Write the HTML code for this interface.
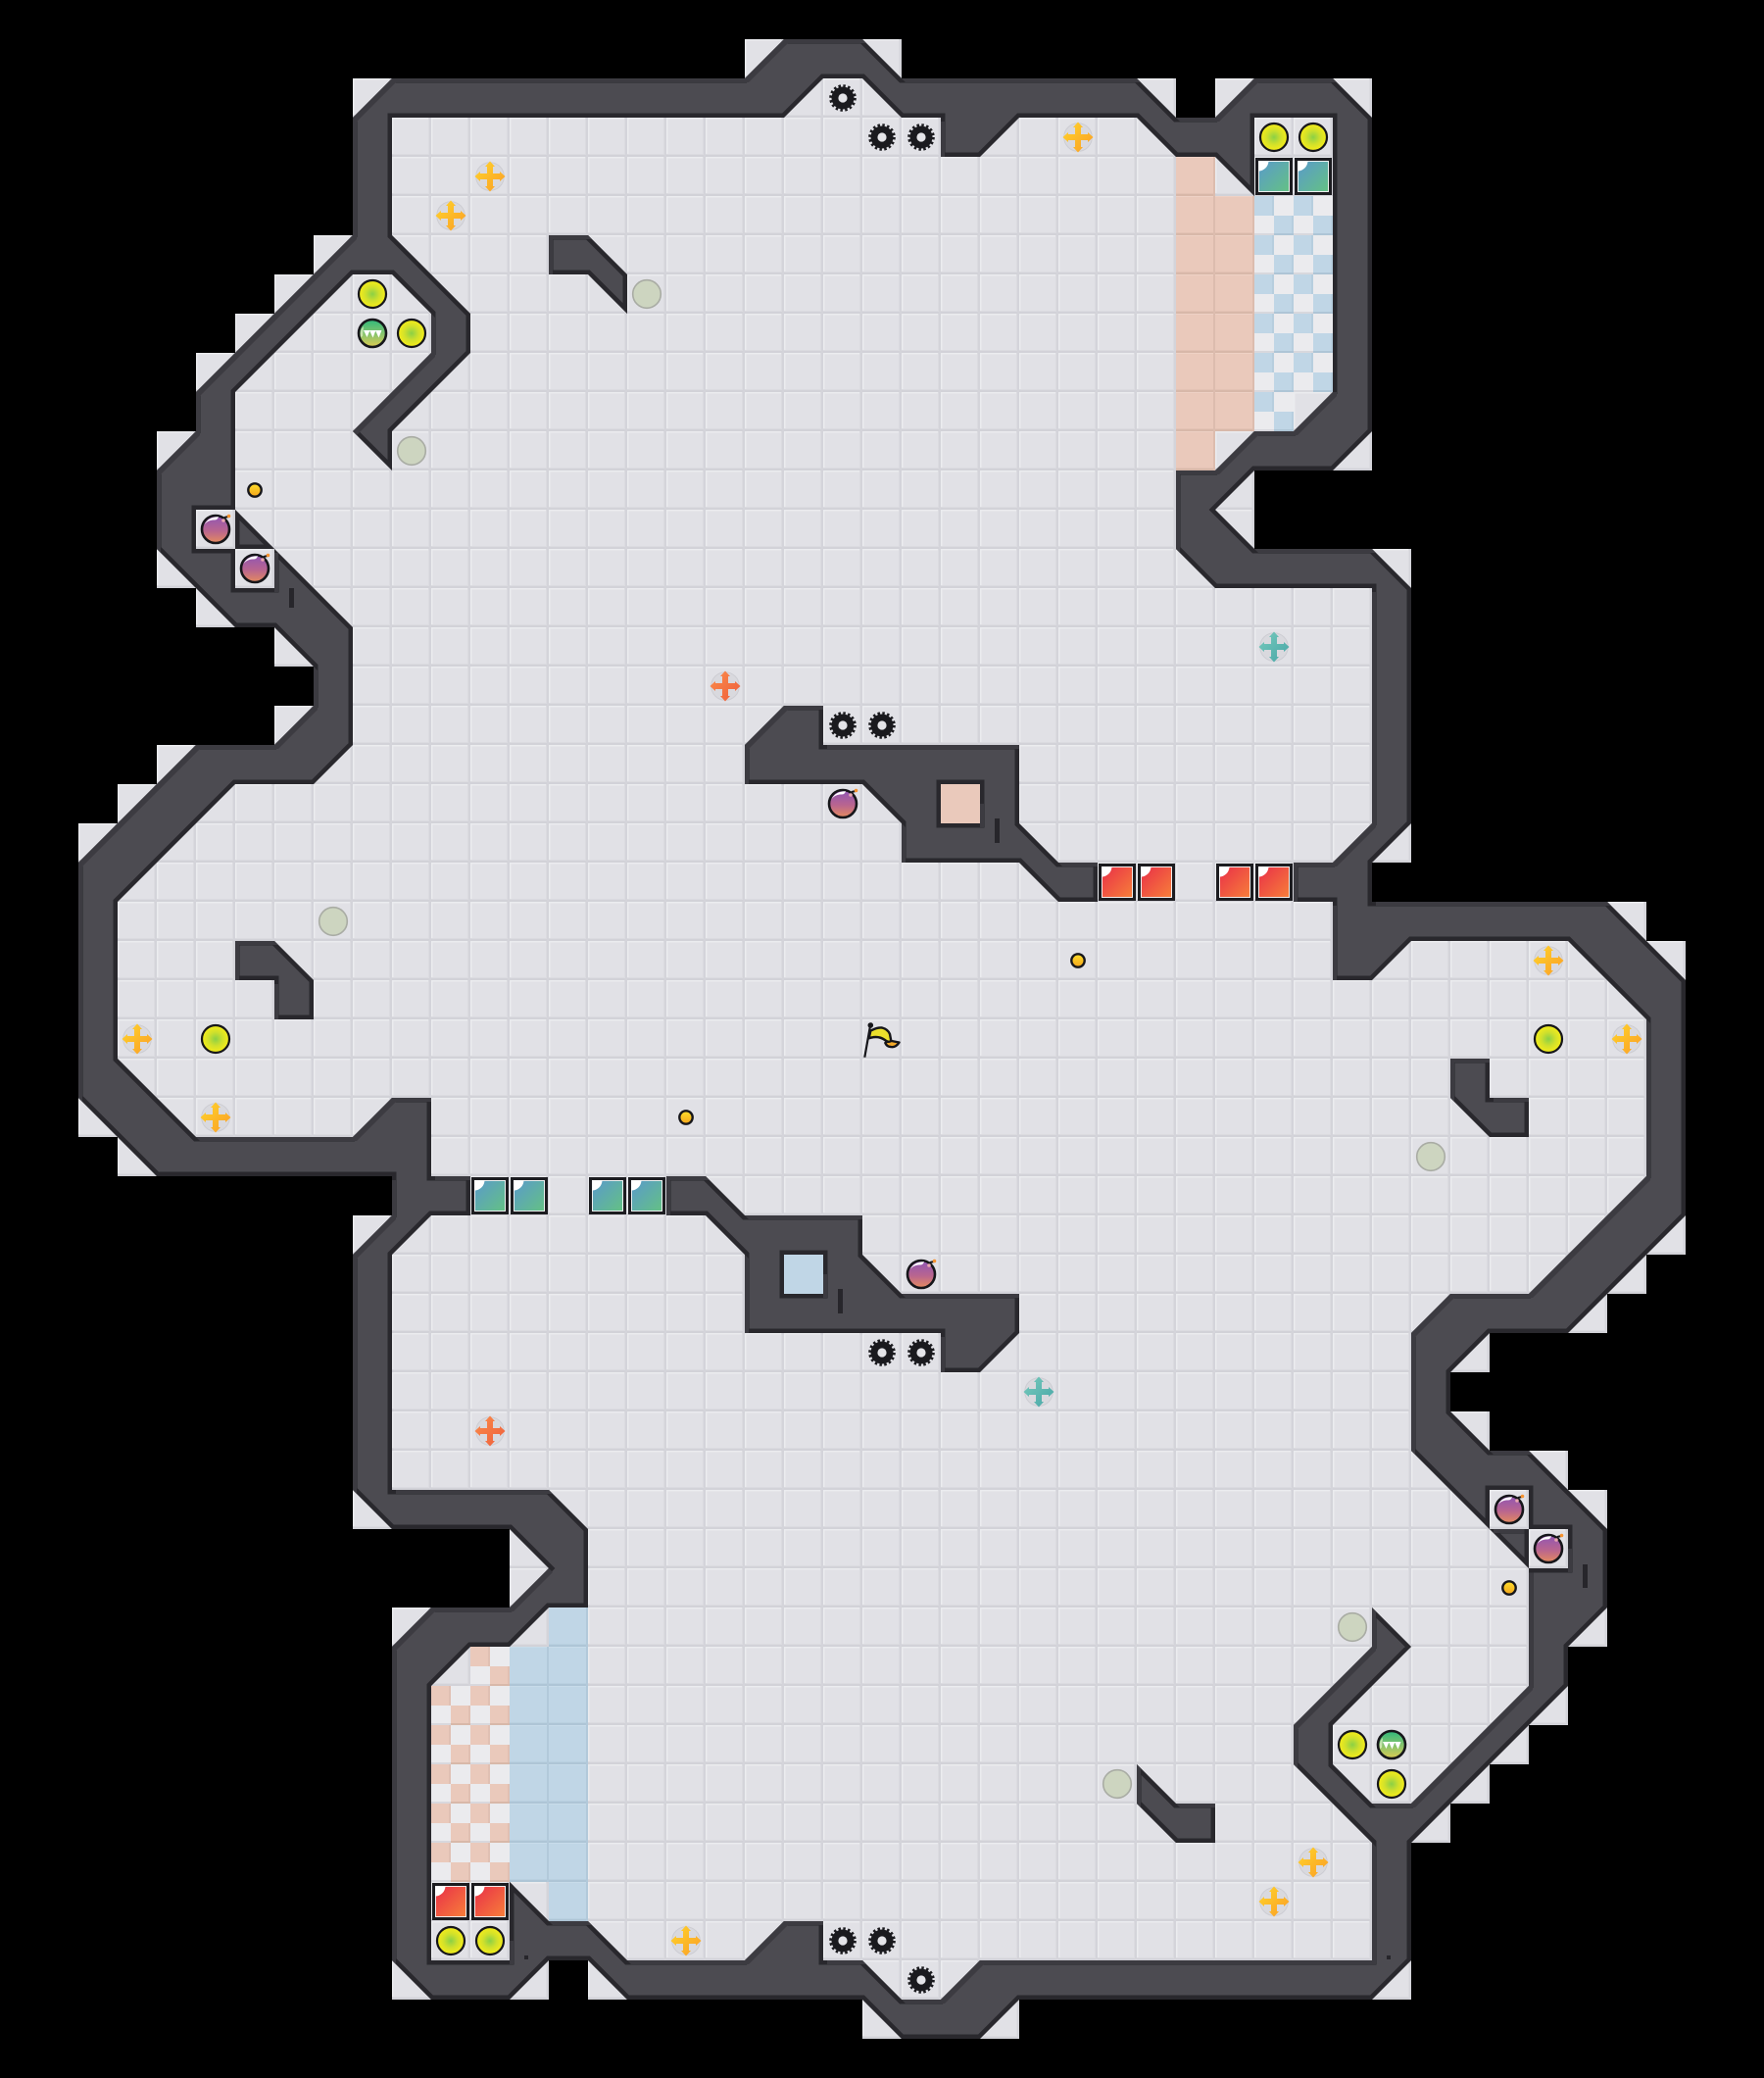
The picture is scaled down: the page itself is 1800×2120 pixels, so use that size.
<!DOCTYPE html>
<html>
<head>
<meta charset="utf-8">
<title>Map</title>
<style>
html,body{margin:0;padding:0;background:#000;}
svg{display:block;}
</style>
</head>
<body>
<svg xmlns="http://www.w3.org/2000/svg" width="1800" height="2120" viewBox="0 0 1800 2120">
<defs>
<pattern id="tile" patternUnits="userSpaceOnUse" width="40" height="40">
  <rect width="40" height="40" fill="#e1e1e6"/>
  <rect width="40" height="1.5" fill="#ebecef"/>
  <rect width="1.5" height="40" fill="#ebecef"/>
  <rect y="37" width="40" height="1" fill="#dbdbe0"/>
  <rect x="37" width="1" height="40" fill="#dbdbe0"/>
  <rect y="38" width="40" height="2" fill="#d2d2d8"/>
  <rect x="38" width="2" height="40" fill="#d4d4da"/>
</pattern>
<pattern id="tp" patternUnits="userSpaceOnUse" width="40" height="40">
  <rect width="40" height="40" fill="#eac9bb"/>
  <rect width="40" height="1" fill="#eed1c5"/>
  <rect y="37" width="40" height="1" fill="#e3c2b4"/>
  <rect y="38" width="40" height="2" fill="#d8b8a9"/>
  <rect x="38" width="2" height="40" fill="#dcbcae"/>
</pattern>
<pattern id="tb" patternUnits="userSpaceOnUse" width="40" height="40">
  <rect width="40" height="40" fill="#c0d6e6"/>
  <rect width="40" height="1" fill="#c8dcea"/>
  <rect y="37" width="40" height="1" fill="#b9d0e0"/>
  <rect y="38" width="40" height="2" fill="#aec5d6"/>
  <rect x="38" width="2" height="40" fill="#b2c9da"/>
</pattern>
<pattern id="cb" patternUnits="userSpaceOnUse" width="40" height="40">
  <rect width="40" height="40" fill="#ebebee"/>
  <rect width="20" height="20" fill="#c0d6e6"/>
  <rect x="20" y="20" width="20" height="20" fill="#c0d6e6"/>
  <rect x="18" width="2" height="20" fill="#b7cede"/>
  <rect x="38" y="20" width="2" height="20" fill="#b7cede"/>
  <rect x="20" y="38" width="20" height="2" fill="#aec5d6"/>
  <rect y="38" width="20" height="2" fill="#d8d8dd"/>
</pattern>
<pattern id="cp" patternUnits="userSpaceOnUse" width="40" height="40">
  <rect width="40" height="40" fill="#ebebee"/>
  <rect width="20" height="20" fill="#eac9bb"/>
  <rect x="20" y="20" width="20" height="20" fill="#eac9bb"/>
  <rect x="18" width="2" height="20" fill="#e0c0b3"/>
  <rect x="38" y="20" width="2" height="20" fill="#e0c0b3"/>
  <rect x="20" y="38" width="20" height="2" fill="#d8b8a9"/>
  <rect y="38" width="20" height="2" fill="#d8d8dd"/>
</pattern>

<path id="w" transform="scale(40)" fill-rule="evenodd" clip-rule="evenodd" d="
M9 3L10 2L19 2L20 1L22 1L23 2L29 2L30 3L31 3L32 2L34 2L35 3L35 11L34 12L32 12L31 13L32 14L35 14L36 15L36 21L35 22L35 23L41 23L43 25L43 31L40 34L38 34L37 35L37 36L38 37L39 37L41 39L41 41L40 42L40 43L36 47L36 50L35 51L26 51L25 52L23 52L22 51L16 51L15 50L14 50L13 51L11 51L10 50L10 42L11 41L13 41L14 40L13 39L10 39L9 38L9 32L10 31L10 30L4 30L2 28L2 22L5 19L7 19L8 18L8 17L7 16L6 16L4 14L4 12L5 11L5 10L9 6Z
M10 3L20 3L21 2L22 2L23 3L24 3L24 4L25 4L26 3L29 3L30 4L31 4L32 5L32 3L34 3L34 10L33 11L32 11L31 12L30 12L30 14L31 15L35 15L35 21L34 22L33 22L33 23L34 23L34 25L35 25L36 24L40 24L42 26L42 30L39 33L37 33L36 34L36 37L38 39L39 40L39 43L36 46L35 46L34 45L34 44L36 42L35 41L35 42L33 44L33 45L35 47L35 50L25 50L24 51L23 51L22 50L21 50L21 49L20 49L19 50L16 50L15 49L14 49L13 48L13 50L11 50L11 43L12 42L13 42L14 41L15 41L15 39L14 38L10 38L10 32L11 31L12 31L12 30L11 30L11 28L10 28L9 29L5 29L3 27L3 23L6 20L8 20L9 19L9 16L7 14L6 13L6 10L9 7L10 7L11 8L11 9L9 11L10 12L10 11L12 9L12 8L10 6Z
M19 19L20 18L21 18L21 19L26 19L26 21L27 22L28 22L28 23L27 23L26 22L23 22L23 21L22 20L19 20Z
M24 20L25 20L25 21L24 21Z
M26 34L25 35L24 35L24 34L19 34L19 32L18 31L17 31L17 30L18 30L19 31L22 31L22 32L23 33L26 33Z
M20 32L21 32L21 33L20 33Z
M14 6L15 6L16 7L16 8L15 7L14 7Z
M31 47L30 47L29 46L29 45L30 46L31 46Z
M6 24L7 24L8 25L8 26L7 26L7 25L6 25Z
M39 29L38 29L37 28L37 27L38 27L38 28L39 28Z
M5 13L6 13L6 14L5 14Z
M6 14L7 14L7 15L6 15Z
M38 38L39 38L39 39L38 39Z
M39 39L40 39L40 40L39 40Z
"/>

<clipPath id="c"><use href="#w"/></clipPath>
<clipPath id="fc"><path transform="scale(40)" d="M9 2L19 2L19 1L23 1L23 2L30 2L30 3L31 3L31 2L35 2L35 12L32 12L32 14L36 14L36 22L35 22L35 23L42 23L42 24L43 24L43 32L42 32L42 33L41 33L41 34L38 34L38 35L37 35L37 36L38 36L38 37L40 37L40 38L41 38L41 42L40 42L40 44L39 44L39 45L38 45L38 46L37 46L37 47L36 47L36 51L26 51L26 52L22 52L22 51L15 51L15 50L14 50L14 51L10 51L10 41L13 41L13 39L9 39L9 31L10 31L10 30L3 30L3 29L2 29L2 21L3 21L3 20L4 20L4 19L7 19L7 18L8 18L8 17L7 17L7 16L5 16L5 15L4 15L4 11L5 11L5 9L6 9L6 8L7 8L7 7L8 7L8 6L9 6Z"/></clipPath>

<filter id="lb" filterUnits="userSpaceOnUse" x="0" y="0" width="1800" height="2120" color-interpolation-filters="sRGB">
  <feOffset in="SourceAlpha" dx="4" dy="4" result="o"/>
  <feComposite in="SourceAlpha" in2="o" operator="out" result="b"/>
  <feFlood flood-color="#3c3b41" result="f"/>
  <feComposite in="f" in2="b" operator="in"/>
</filter>

<radialGradient id="gd"><stop offset="0" stop-color="#8bd046"/><stop offset=".5" stop-color="#cfe02c"/><stop offset=".85" stop-color="#ebe91e"/><stop offset="1" stop-color="#eeec18"/></radialGradient>
<linearGradient id="gc" x1="0" y1="0" x2="0" y2="1"><stop offset="0" stop-color="#2fb87c"/><stop offset=".55" stop-color="#8cc56c"/><stop offset="1" stop-color="#dccb52"/></linearGradient>
<linearGradient id="gcoin" x1="0" y1="0" x2="0" y2="1"><stop offset="0" stop-color="#ffdf2c"/><stop offset="1" stop-color="#f3a51c"/></linearGradient>
<linearGradient id="gb" x1="0" y1="0" x2="0" y2="1"><stop offset="0" stop-color="#8f55b5"/><stop offset=".55" stop-color="#b9658f"/><stop offset="1" stop-color="#e58b5e"/></linearGradient>
<linearGradient id="gr" x1="0" y1="0" x2="1" y2="1"><stop offset="0" stop-color="#e92f48"/><stop offset="1" stop-color="#f77f3a"/></linearGradient>
<linearGradient id="gt" x1="0" y1="0" x2="1" y2="1"><stop offset="0" stop-color="#5a9acb"/><stop offset="1" stop-color="#64c184"/></linearGradient>
<linearGradient id="xy" x1="0" y1="0" x2="1" y2="1"><stop offset="0" stop-color="#ffd62b"/><stop offset="1" stop-color="#fa9c26"/></linearGradient>
<linearGradient id="xo" x1="0" y1="0" x2="1" y2="1"><stop offset="0" stop-color="#fb8d4a"/><stop offset="1" stop-color="#ee5d3c"/></linearGradient>
<linearGradient id="xt" x1="0" y1="0" x2="1" y2="1"><stop offset="0" stop-color="#78cbbd"/><stop offset="1" stop-color="#46a5a6"/></linearGradient>

<g id="disc"><circle r="14" fill="url(#gd)" stroke="#16161a" stroke-width="2.2"/></g>
<g id="chomp">
  <circle r="14" fill="url(#gc)" stroke="#16161a" stroke-width="2.6"/>
  <path d="M-9 -3L-2.5 -3L-5.5 4ZM-3 -3L3.5 -3L0.5 4.5ZM3 -3L9.5 -3L6.5 4.5Z" fill="#fff"/>
  <path d="M-12 4Q-13 -4 -9 -7L-10 3Z" fill="#e4efc8" opacity=".7"/>
</g>
<g id="pale"><circle r="14.3" fill="#cdd5c0" stroke="#a9aca4" stroke-width="1.6"/></g>
<g id="coin"><circle r="6.7" fill="url(#gcoin)" stroke="#17171b" stroke-width="2.4"/></g>
<g id="gear">
  <circle r="11.5" fill="#1a1a1e"/>
  <circle r="12" fill="none" stroke="#1a1a1e" stroke-width="3.6" stroke-dasharray="2.4 2.31"/>
  <circle r="4.6" fill="#e4e4e8"/>
</g>
<path id="xs" d="M0 -15.5L5 -10L3 -10L3 -3L10 -3L10 -5L15.5 0L10 5L10 3L3 3L3 10L5 10L0 15.5L-5 10L-3 10L-3 3L-10 3L-10 5L-15.5 0L-10 -5L-10 -3L-3 -3L-3 -10L-5 -10Z"/>
<g id="xy1"><circle r="14.3" fill="#d9d9de" stroke="#cdcdd3" stroke-width="1"/><use href="#xs" fill="url(#xy)"/></g>
<g id="xo1"><circle r="14.3" fill="#d9d9de" stroke="#cdcdd3" stroke-width="1"/><use href="#xs" fill="url(#xo)"/></g>
<g id="xt1"><circle r="14.3" fill="#d9d9de" stroke="#cdcdd3" stroke-width="1"/><use href="#xs" fill="url(#xt)"/></g>
<g id="bomb">
  <circle r="14" fill="url(#gb)" stroke="#16161a" stroke-width="2.6"/>
  <path d="M-11.5 -5Q-7 -13 3 -12.8Q2 -9 -3 -9.5Q-8 -9 -11.5 -5Z" fill="#fff"/>
  <circle cx="8" cy="-9" r="1.8" fill="#e9a7b0"/>
  <path d="M9 -12L13 -13" stroke="#16161a" stroke-width="2" fill="none"/>
  <circle cx="13.5" cy="-13.5" r="1.8" fill="#f6922e"/>
</g>
<g id="dr">
  <rect x="1" y="1" width="38" height="38" fill="#1c1c20"/>
  <rect x="4.5" y="4.5" width="31" height="31" fill="url(#gr)" stroke="#fff" stroke-width=".9"/>
  <path d="M4 4H14.5A10.5 10.5 0 0 1 4 14.5Z" fill="#fff"/>
</g>
<g id="dt">
  <rect x="1" y="1" width="38" height="38" fill="#1c1c20"/>
  <rect x="4.5" y="4.5" width="31" height="31" fill="url(#gt)" stroke="#fff" stroke-width=".9"/>
  <path d="M4 4H14.5A10.5 10.5 0 0 1 4 14.5Z" fill="#fff"/>
</g>
</defs>

<rect width="1800" height="2120" fill="#000"/>

<!-- floor -->
<rect width="1800" height="2120" fill="url(#tile)" clip-path="url(#fc)"/>

<!-- tinted zones -->
<rect x="1200" y="160" width="40" height="320" fill="url(#tp)"/>
<rect x="1240" y="200" width="40" height="240" fill="url(#tp)"/>
<rect x="1280" y="200" width="80" height="240" fill="url(#cb)"/>
<rect x="1320" y="400" width="40" height="40" fill="url(#tile)"/>
<rect x="560" y="1640" width="40" height="320" fill="url(#tb)"/>
<rect x="520" y="1680" width="40" height="240" fill="url(#tb)"/>
<rect x="440" y="1680" width="80" height="240" fill="url(#cp)"/>
<rect x="440" y="1680" width="40" height="40" fill="url(#tile)"/>
<rect x="960" y="800" width="40" height="40" fill="#eac9bb"/>
<rect x="800" y="1280" width="40" height="40" fill="#c0d6e6"/>

<!-- walls -->
<g clip-path="url(#c)">
  <use href="#w" fill="#4c4b51"/>
  <use href="#w" fill="none" stroke="#29282d" stroke-width=".225"/>
</g>
<g filter="url(#lb)"><use href="#w"/></g>
<g clip-path="url(#c)" fill="none" stroke="#29282d" stroke-width="9">
  <path d="M1000 820V800H960V840H1000"/>
  <path d="M840 1300V1280H800V1320H840"/>
  <path d="M240 560H200V520H240V560"/>
  <path d="M280 600H240V560H280"/>
  <path d="M1520 1560V1520H1560V1560"/>
  <path d="M1600 1580V1560H1560V1600H1600"/>
  <path d="M1360 120V400"/>
  <path d="M440 2000H520M520 1920V1980"/>
</g>
<g fill="#27262b">
  <rect x="295" y="600" width="5" height="20"/>
  <rect x="1015" y="835" width="5" height="25"/>
  <rect x="855" y="1315" width="5" height="25"/>
  <rect x="1615" y="1596" width="5" height="24"/>
  <rect x="535" y="1995" width="4" height="4"/>
  <rect x="1415" y="1995" width="4" height="4"/>
</g>

<!-- doors -->
<use href="#dr" x="1120" y="880"/><use href="#dr" x="1160" y="880"/><use href="#dr" x="1240" y="880"/><use href="#dr" x="1280" y="880"/>
<use href="#dr" x="440" y="1920"/><use href="#dr" x="480" y="1920"/>
<use href="#dt" x="480" y="1200"/><use href="#dt" x="520" y="1200"/><use href="#dt" x="600" y="1200"/><use href="#dt" x="640" y="1200"/>
<use href="#dt" x="1280" y="160"/><use href="#dt" x="1320" y="160"/>

<!-- gears -->
<use href="#gear" x="860" y="100"/><use href="#gear" x="900" y="140"/><use href="#gear" x="940" y="140"/>
<use href="#gear" x="860" y="740"/><use href="#gear" x="900" y="740"/>
<use href="#gear" x="900" y="1380"/><use href="#gear" x="940" y="1380"/>
<use href="#gear" x="860" y="1980"/><use href="#gear" x="900" y="1980"/><use href="#gear" x="940" y="2020"/>

<!-- crosses -->
<use href="#xy1" x="500" y="180"/><use href="#xy1" x="460" y="220"/><use href="#xy1" x="1100" y="140"/>
<use href="#xy1" x="140" y="1060"/><use href="#xy1" x="220" y="1140"/><use href="#xy1" x="1580" y="980"/>
<use href="#xy1" x="1660" y="1060"/><use href="#xy1" x="700" y="1980"/><use href="#xy1" x="1340" y="1900"/><use href="#xy1" x="1300" y="1940"/>
<use href="#xo1" x="740" y="700"/><use href="#xo1" x="500" y="1460"/>
<use href="#xt1" x="1300" y="660"/><use href="#xt1" x="1060" y="1420"/>

<!-- discs -->
<use href="#disc" x="380" y="300"/><use href="#disc" x="420" y="340"/><use href="#disc" x="1300" y="140"/><use href="#disc" x="1340" y="140"/>
<use href="#disc" x="220" y="1060"/><use href="#disc" x="1580" y="1060"/><use href="#disc" x="1380" y="1780"/><use href="#disc" x="1420" y="1820"/>
<use href="#disc" x="460" y="1980"/><use href="#disc" x="500" y="1980"/>
<use href="#chomp" x="380" y="340"/><use href="#chomp" x="1420" y="1780"/>

<!-- pale discs -->
<use href="#pale" x="660" y="300"/><use href="#pale" x="420" y="460"/><use href="#pale" x="340" y="940"/>
<use href="#pale" x="1460" y="1180"/><use href="#pale" x="1140" y="1820"/><use href="#pale" x="1380" y="1660"/>

<!-- coins -->
<use href="#coin" x="260" y="500"/><use href="#coin" x="1100" y="980"/><use href="#coin" x="700" y="1140"/><use href="#coin" x="1540" y="1620"/>

<!-- bombs -->
<use href="#bomb" x="220" y="540"/><use href="#bomb" x="260" y="580"/><use href="#bomb" x="860" y="820"/>
<use href="#bomb" x="940" y="1300"/><use href="#bomb" x="1540" y="1540"/><use href="#bomb" x="1580" y="1580"/>

<!-- flag -->
<path d="M882.3 1078.7L887.7 1048.3" stroke="#16161a" stroke-width="2.2" fill="none"/>
<circle cx="888.3" cy="1046" r="2.8" fill="#16161a"/>
<path d="M903.3 1064L907.3 1061.5L917.5 1063.5Q914 1069 909 1068Q905 1068 903.3 1064Z" fill="#f3a92a" stroke="#16161a" stroke-width="2.4" stroke-linejoin="round"/>
<path d="M888.3 1051.7Q895 1048 900 1048.5Q906 1050 908 1055L909.3 1062Q906 1064 903 1061Q896 1056 886.7 1059.3Z" fill="#ebe02c" stroke="#16161a" stroke-width="2.4" stroke-linejoin="round"/>
</svg>
</body>
</html>
